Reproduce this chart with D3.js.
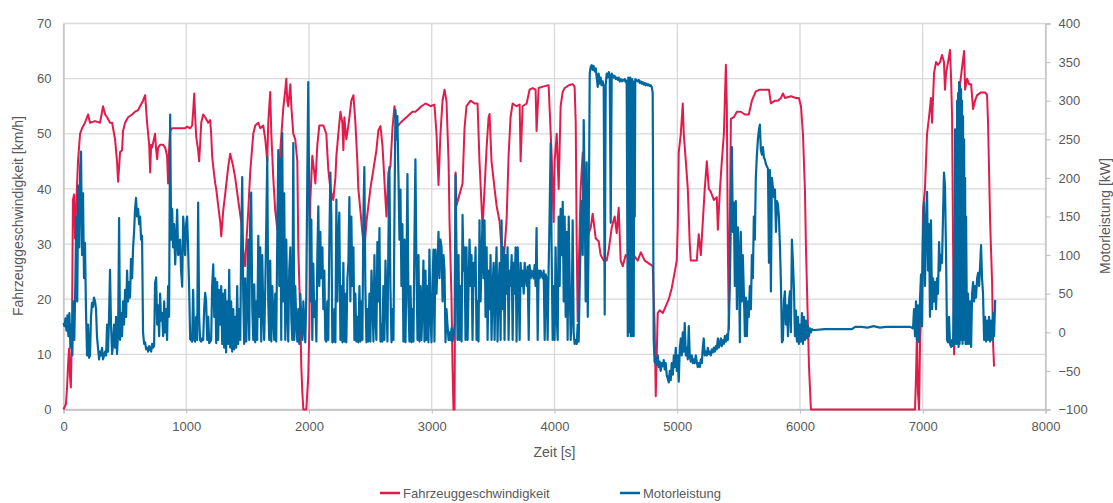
<!DOCTYPE html>
<html>
<head>
<meta charset="utf-8">
<script src="https://cdn.jsdelivr.net/npm/d3@7"></script>
<style>
  body { margin: 0; background: #fff; font-family: "Liberation Sans", Arial, sans-serif; }
  .tick text { fill: #595959; font-size: 13px; }
</style>
</head>
<body>
<div id="chart"></div>
<script>
// axis ticks
var xTicks = [0, 1000, 2000, 3000, 4000, 5000, 6000, 7000, 8000];
var speedTicks = [0, 10, 20, 30, 40, 50, 60, 70];
var powerTicks = [-100, -50, 0, 50, 100, 150, 200, 250, 300, 350, 400];

// Fahrzeuggeschwindigkeit [km/h] over Zeit [s]
var speedData = [[0,0],[20,1],[29,4],[37,8],[45,11],[53,6],[60,4],[69,15],[77,38],[86,39],[94,31],[102,36],[118,45],[135,50],[151,51],[175,52],[200,53.5],[216,52],[257,52.3],[298,52],[322,55],[339,53.5],[355,53],[379,52],[396,52],[420,49],[436,45],[445,41.3],[453,44],[461,46.7],[477,47],[485,50.5],[502,52],[526,53],[559,53.5],[583,54],[608,54.3],[624,55],[648,56],[665,57],[681,52],[698,48],[706,43],[714,48],[722,47.5],[746,50],[755,47],[763,45.4],[771,47.5],[787,48],[812,48],[828,47.5],[844,46],[852,41],[860,47],[869,50.5],[885,51],[910,51],[950,51],[991,51],[1007,51.3],[1032,51],[1048,51.5],[1056,54],[1065,57.3],[1073,53],[1081,49.5],[1097,47],[1105,45],[1113,48],[1122,52],[1138,53.5],[1154,53],[1179,52],[1195,52.5],[1203,50],[1211,46],[1220,44],[1236,41],[1244,40],[1260,37],[1277,34],[1285,31.4],[1301,36],[1317,39],[1342,44],[1358,46.4],[1383,44],[1399,42],[1423,38],[1448,34],[1464,29],[1480,26],[1489,30],[1505,36],[1521,43],[1546,50],[1562,51.5],[1587,52],[1603,51],[1627,51.5],[1644,49],[1660,45],[1668,52],[1684,57.6],[1693,50],[1709,42],[1725,36],[1742,32.7],[1750,40],[1766,47],[1790,54.5],[1807,58],[1815,60],[1823,56],[1831,55],[1848,59],[1856,55],[1872,50],[1888,49],[1905,45],[1913,29],[1929,17],[1937,8],[1946,3],[1954,0],[1978,0],[1994,6],[2003,15],[2011,38],[2027,46],[2043,43],[2052,41],[2068,48],[2084,51.5],[2117,51.5],[2141,50],[2157,43.6],[2174,40],[2198,38],[2215,42],[2223,46],[2239,50],[2256,54],[2272,52],[2280,47],[2288,53],[2304,49],[2321,51.5],[2345,56],[2362,57],[2378,52],[2394,45],[2402,40],[2419,36],[2435,32],[2451,29],[2468,34],[2484,37],[2500,40],[2525,43.6],[2549,47],[2565,50.6],[2582,51.4],[2598,48],[2606,45],[2623,38],[2631,35],[2647,43],[2663,44],[2680,51],[2696,55],[2712,52],[2729,51.5],[2745,52],[2769,52.5],[2794,53],[2818,53.5],[2843,54],[2867,54],[2892,54.5],[2916,55],[2949,55.5],[2990,55],[3022,55.3],[3039,50],[3055,40.7],[3071,50],[3088,56],[3104,58],[3120,56],[3137,45],[3145,34],[3161,20],[3169,8],[3177,0],[3186,0],[3194,43],[3202,37],[3226,39],[3251,41],[3267,51],[3283,55],[3316,56],[3349,55.5],[3373,55.5],[3389,45],[3414,33],[3430,40],[3447,47.5],[3463,53],[3471,53.6],[3487,45],[3512,40],[3528,37],[3553,34],[3569,29],[3577,23],[3593,29],[3610,34.5],[3626,46],[3642,53],[3659,55.5],[3691,55],[3716,55.3],[3724,45],[3740,55],[3773,55.5],[3797,58],[3822,58.3],[3846,58],[3854,50.5],[3871,58.3],[3912,58.6],[3952,58.8],[3977,46],[3993,34],[4001,45],[4018,50],[4034,40],[4050,55],[4067,57.6],[4083,58.3],[4116,58.8],[4148,59],[4164,58.5],[4173,52],[4181,30],[4189,16],[4197,25],[4213,40],[4230,46.6],[4238,32],[4254,30],[4279,32],[4295,33],[4311,35.5],[4336,31],[4360,30.5],[4376,28],[4401,27],[4425,27],[4442,29],[4466,33],[4490,35],[4507,32],[4523,36.6],[4539,27],[4556,26],[4580,28],[4613,27.5],[4645,28],[4678,27],[4703,28.5],[4735,27],[4768,26.5],[4800,26],[4816,15],[4825,2.4],[4841,17.5],[4857,18],[4882,17.5],[4906,18.7],[4931,20],[4955,22],[4980,25],[4996,27],[5004,33],[5012,46.6],[5029,50],[5045,55.5],[5053,50],[5070,45],[5086,40],[5102,30],[5110,27],[5135,27],[5159,27],[5175,31.8],[5192,28],[5208,34],[5224,40],[5241,45],[5257,40],[5273,39.5],[5298,38],[5322,38.5],[5331,32.6],[5347,39.6],[5363,45],[5380,50],[5396,62.5],[5404,55],[5412,30],[5420,14.6],[5437,52.7],[5461,53],[5486,54],[5518,54],[5551,53.5],[5583,53.5],[5608,56],[5640,57.7],[5673,58],[5714,58],[5747,58],[5763,55.5],[5796,56],[5820,56],[5845,56.5],[5861,57.3],[5877,56.5],[5926,56.8],[5967,56.5],[5991,56.5],[6008,55],[6024,50],[6040,40],[6049,29],[6065,15],[6073,8],[6089,0],[6500,0],[6937,0],[6945,6],[6953,14],[6961,3],[6970,0],[6978,12],[6994,22],[7002,36],[7018,40],[7035,50],[7051,53],[7067,56.5],[7076,52],[7092,61],[7108,63],[7124,62.5],[7141,63],[7157,64.3],[7173,63],[7181,58],[7190,61],[7206,63],[7222,65.2],[7231,60],[7239,53],[7247,30],[7255,10],[7263,15],[7271,35],[7288,52],[7304,59],[7320,62],[7337,65],[7345,58],[7361,60],[7377,59],[7394,59],[7410,54.5],[7426,56],[7443,57],[7475,57.5],[7508,57.5],[7524,57],[7532,52],[7549,34],[7565,23],[7573,12],[7581,7.8]];

// Motorleistung [kW] over Zeit [s]
var powerData = [[0,12],[8,8],[16,18],[24,2],[32,22],[40,-5],[48,25],[56,-20],[64,10],[72,-30],[80,40],[88,-10],[96,60],[104,150],[112,40],[120,190],[128,110],[136,215],[143,234],[151,100],[159,180],[167,70],[175,116],[183,30],[192,-30],[200,10],[208,-33],[216,-30],[224,20],[232,38],[240,33],[248,45],[257,40],[265,30],[273,-6],[281,-20],[290,-35],[298,-25],[306,-30],[314,-20],[322,-35],[330,-30],[339,-25],[347,-30],[355,10],[363,-25],[371,20],[379,81],[387,10],[396,-28],[404,-15],[412,10],[420,-20],[428,20],[436,-28],[445,0],[453,148],[461,-10],[469,25],[477,-5],[485,40],[493,10],[502,55],[510,20],[518,80],[526,40],[534,65],[542,45],[550,95],[559,70],[567,110],[575,130],[583,160],[591,174],[599,150],[608,160],[616,140],[624,150],[632,120],[640,125],[648,0],[657,-15],[665,-13],[673,-22],[681,-20],[689,-25],[698,-18],[706,-22],[714,-25],[722,-15],[730,-20],[738,-18],[746,64],[755,71],[763,10],[771,35],[779,-5],[787,50],[795,15],[803,25],[812,-5],[820,40],[828,0],[836,30],[844,-10],[852,60],[860,20],[869,282],[877,120],[885,160],[893,110],[901,140],[910,88],[918,120],[926,159],[934,100],[942,103],[950,120],[958,80],[967,59],[975,150],[983,130],[991,100],[999,140],[1007,150],[1015,110],[1023,60],[1032,-9],[1040,-10],[1048,-12],
  [1056,55],[1065,-10],[1073,-12],[1081,20],[1089,-10],[1097,168],[1105,20],[1113,-10],[1122,-12],[1130,-8],[1138,-10],[1146,30],[1154,51],[1162,40],[1171,-10],[1179,20],[1187,-14],[1195,-12],[1203,-10],[1211,60],[1220,88],[1228,20],[1236,70],[1244,-14],[1252,65],[1260,-10],[1268,55],[1277,10],[1285,60],[1293,-15],[1301,50],[1309,-20],[1317,55],[1325,-26],[1334,40],[1342,-15],[1350,81],[1358,-20],[1366,40],[1374,-25],[1383,30],[1391,-22],[1399,20],[1407,-20],[1415,60],[1423,-15],[1432,30],[1440,-10],[1448,120],[1456,201],[1464,50],[1472,-15],[1480,70],[1489,-12],[1497,40],[1505,120],[1513,-10],[1521,150],[1529,181],[1538,30],[1546,-10],[1554,62],[1562,-13],[1570,40],[1578,-10],[1587,125],[1595,20],[1603,110],[1611,-12],[1619,100],[1627,30],[1635,-10],[1644,60],[1652,140],[1660,227],[1668,40],[1676,-10],[1684,93],[1693,-12],[1701,60],[1709,20],[1717,-10],[1725,50],[1733,-12],[1742,130],[1750,236],[1758,60],[1766,225],[1774,-10],[1782,258],[1790,40],[1798,180],[1807,-10],[1815,120],[1823,30],[1831,-12],[1839,80],[1848,110],[1856,20],[1864,-10],[1872,245],[1880,-10],[1888,60],[1897,10],[1905,-12],[1913,30],[1921,-15],[1929,50],[1937,20],[1946,-10],[1954,40],[1962,5],[1970,-13],[1978,50],[1986,200],[1994,324],[2003,150],[2011,40],
  [2019,146],[2027,-10],[2035,89],[2043,20],[2052,40],[2060,-12],[2068,100],[2076,163],[2084,60],[2092,130],[2100,70],[2109,110],[2117,30],[2125,80],[2133,-10],[2141,-12],[2149,40],[2157,-10],[2166,120],[2174,207],[2182,150],[2190,-13],[2198,-12],[2207,30],[2215,-13],[2223,172],[2231,40],[2239,120],[2247,155],[2256,-10],[2264,60],[2272,-13],[2280,90],[2288,-12],[2296,50],[2304,-13],[2313,70],[2321,90],[2329,175],[2337,40],[2345,150],[2353,60],[2362,110],[2370,-10],[2378,50],[2386,-12],[2394,20],[2402,-13],[2411,60],[2419,-12],[2427,40],[2435,-10],[2443,150],[2451,214],[2459,60],[2468,-13],[2476,30],[2484,-12],[2492,50],[2500,-12],[2509,80],[2517,40],[2525,-12],[2533,100],[2541,20],[2549,-10],[2557,117],[2565,40],[2574,135],[2582,-12],[2590,10],[2598,-12],[2606,60],[2614,-10],[2623,93],[2631,40],[2639,-12],[2647,120],[2655,214],[2663,60],[2672,-13],[2680,30],[2688,-10],[2696,150],[2704,288],[2712,250],[2720,280],[2729,200],[2737,120],[2745,185],[2753,60],[2761,140],[2769,-12],[2778,120],[2786,-13],[2794,80],[2802,205],[2810,40],[2818,-12],[2827,60],[2835,-13],[2843,30],[2851,-12],[2859,120],[2867,224],[2875,90],[2884,-10],[2892,100],[2900,-12],[2908,60],[2916,-10],[2924,30],[2932,93],[2941,-12],[2949,80],[2957,-10],[2965,60],[2973,-13],[2981,107],[2990,20],
  [2998,-13],[3006,60],[3014,107],[3022,-12],[3030,107],[3039,50],[3047,90],[3055,130],[3063,70],[3071,120],[3080,110],[3088,40],[3096,100],[3104,80],[3112,-13],[3120,30],[3128,10],[3137,-10],[3145,0],[3153,-10],[3161,5],[3169,-12],[3177,-5],[3186,10],[3194,204],[3202,100],[3210,-10],[3218,100],[3226,-10],[3234,60],[3243,-12],[3251,152],[3259,80],[3267,110],[3275,-10],[3283,110],[3292,-10],[3300,60],[3308,120],[3316,60],[3324,100],[3332,-10],[3341,90],[3349,60],[3357,110],[3365,-10],[3373,40],[3381,-12],[3389,145],[3398,40],[3406,100],[3414,145],[3422,70],[3430,145],[3438,20],[3447,110],[3455,-10],[3463,80],[3471,30],[3479,100],[3487,-10],[3496,60],[3504,90],[3512,-10],[3520,70],[3528,110],[3536,-12],[3545,60],[3553,90],[3561,-10],[3569,145],[3577,30],[3585,110],[3593,-10],[3602,100],[3610,50],[3618,110],[3626,-10],[3634,80],[3642,60],[3651,100],[3659,-10],[3667,90],[3675,50],[3683,110],[3691,-12],[3700,110],[3708,60],[3716,-10],[3724,90],[3732,60],[3740,80],[3749,50],[3757,90],[3765,70],[3773,60],[3781,85],[3790,-10],[3797,87],[3806,70],[3814,80],[3822,75],[3830,70],[3838,87],[3846,60],[3854,135],[3863,-10],[3871,80],[3879,70],[3887,80],[3895,75],[3904,70],[3912,80],[3920,-10],[3928,75],[3936,70],[3944,-10],[3952,80],[3960,150],[3969,245],[3977,100],[3985,-10],[3993,60],[4001,-10],[4009,110],[4018,20],
  [4026,-10],[4034,150],[4042,60],[4050,160],[4058,100],[4067,169],[4075,40],[4083,150],[4091,20],[4099,130],[4107,-10],[4116,150],[4124,60],[4132,-10],[4140,20],[4148,145],[4156,0],[4164,-15],[4173,-10],[4181,-15],[4189,10],[4197,-12],[4205,60],[4213,120],[4221,170],[4230,100],[4238,275],[4246,180],[4254,40],[4262,220],[4271,20],[4279,140],[4287,335],[4295,344],[4303,346],[4311,340],[4319,345],[4328,338],[4336,342],[4344,330],[4352,318],[4360,335],[4368,322],[4376,330],[4384,320],[4393,325],[4401,318],[4409,23],[4417,320],[4425,335],[4434,330],[4442,337],[4450,332],[4458,142],[4466,335],[4474,333],[4482,330],[4490,332],[4499,328],[4507,330],[4515,327],[4523,330],[4531,325],[4539,328],[4548,325],[4556,327],[4564,326],[4572,328],[4580,324],[4588,326],[4597,-5],[4601,330],[4605,0],[4609,325],[4613,60],[4617,330],[4621,-5],[4625,320],[4629,-5],[4633,328],[4637,100],[4641,320],[4645,-5],[4650,325],[4654,150],[4658,328],[4670,326],[4678,325],[4686,327],[4694,323],[4703,325],[4711,322],[4719,324],[4727,321],[4735,323],[4743,320],[4751,322],[4760,320],[4768,321],[4776,319],[4784,320],[4792,318],[4800,310],[4808,-9],[4816,-39],
  [4825,-35],[4833,-42],[4841,-30],[4849,-45],[4857,-38],[4865,-50],[4874,-40],[4882,-44],[4890,-36],[4898,-48],[4906,-40],[4914,-55],[4923,-60],[4931,-65],[4939,-50],[4947,-62],[4955,-40],[4964,-55],[4972,-30],[4980,-45],[4988,-20],[4996,-50],[5004,-30],[5012,-64],[5021,-20],[5029,-8],[5037,-30],[5045,0],[5053,-25],[5061,12],[5070,-30],[5078,-20],[5086,-35],[5094,8],[5102,-30],[5110,-38],[5118,-30],[5127,-40],[5135,-35],[5143,-40],[5151,-30],[5159,-38],[5167,-45],[5175,-40],[5184,-45],[5192,-35],[5200,-40],[5208,-20],[5216,-8],[5224,-30],[5233,-25],[5241,-30],[5249,-20],[5257,-28],[5265,-25],[5273,-30],[5282,-22],[5290,-26],[5298,-20],[5306,-25],[5314,-18],[5322,-22],[5331,-8],[5339,-20],[5347,-15],[5355,-8],[5363,-18],[5371,-10],[5380,-15],[5388,-5],[5396,-12],[5404,-3],[5412,-10],[5420,10],[5428,60],[5437,150],
  [5445,240],[5453,130],[5461,168],[5469,60],[5477,170],[5486,30],[5494,136],[5502,100],[5510,-13],[5518,130],[5526,40],[5534,100],[5543,50],[5551,-5],[5559,45],[5567,-5],[5575,40],[5583,20],[5591,60],[5600,30],[5608,100],[5616,70],[5624,150],[5632,120],[5640,200],[5649,230],[5657,250],[5665,262],[5673,269],[5681,236],[5690,230],[5698,240],[5706,226],[5714,224],[5722,218],[5730,215],[5739,212],[5747,90],[5755,210],[5763,53],[5771,200],[5779,188],[5788,175],[5796,185],[5804,130],[5812,170],[5820,166],[5828,150],[5837,110],[5845,60],[5853,-13],[5861,-10],[5869,40],[5877,53],[5885,10],[5894,35],[5902,-5],[5910,40],[5918,53],[5926,0],[5934,120],[5942,93],[5951,55],[5959,-5],[5967,28],[5975,-12],[5983,20],[5991,-15],[5999,10],[6008,-12],[6016,25],[6024,-15],[6032,20],[6040,-10],[6049,15],[6057,-8],[6065,8],[6073,-5],[6081,5],[6089,0],[6098,4],[6106,3],
  [6122,3],[6200,4],[6300,4],[6420,4],[6450,7],[6500,7],[6550,6],[6600,8],[6650,6],[6700,7],[6800,7],[6900,7],
  [6921,5],[6929,30],[6937,-5],[6945,40],[6953,-10],[6961,35],[6970,-13],[6978,45],[6986,75],[6994,8],[7002,120],[7010,168],[7018,60],[7027,140],[7035,182],[7043,80],[7051,140],[7059,20],[7067,145],[7076,30],[7084,70],[7092,40],[7100,65],[7108,30],[7116,70],[7124,50],[7133,117],[7141,80],[7149,100],[7157,90],[7165,150],[7173,207],[7181,190],[7190,100],[7198,-10],[7206,-13],[7214,20],[7222,-15],[7231,-19],[7239,-10],[7247,-18],[7255,100],[7259,-15],[7263,263],[7267,-10],[7271,200],[7275,-15],[7280,300],[7284,-10],[7288,310],[7292,-19],[7296,324],[7300,-15],[7304,320],[7308,-10],[7312,315],[7316,20],[7320,300],[7324,-15],[7328,280],[7333,0],[7337,250],[7341,-10],[7345,200],[7349,-15],[7353,150],[7361,-15],[7369,50],[7377,-15],[7385,40],[7394,-19],[7402,50],[7410,65],[7418,40],[7426,60],[7434,45],[7443,70],[7451,77],[7459,60],[7467,85],[7475,113],[7483,70],[7491,50],[7500,-10],[7508,20],[7516,-12],[7524,15],[7532,-10],[7540,20],[7549,-12],[7557,15],[7565,-10],[7573,25],[7581,-5],[7590,42]];

var W = 1113, H = 503;
var plot = {left: 63.5, right: 1045.5, top: 23.5, bottom: 409.5};
var red = "#e31b4c", blue = "#00689f", grid = "#d9d9d9", text = "#595959";

var svg = d3.select("#chart").append("svg").attr("width", W).attr("height", H);

var x = d3.scaleLinear().domain([0, 8000]).range([plot.left, plot.right]);
var yL = d3.scaleLinear().domain([0, 70]).range([plot.bottom, plot.top]);
var yR = d3.scaleLinear().domain([-100, 400]).range([plot.bottom, plot.top]);

// gridlines
svg.append("g").selectAll("line").data(speedTicks).join("line")
  .attr("x1", plot.left).attr("x2", plot.right)
  .attr("y1", d => yL(d)).attr("y2", d => yL(d))
  .attr("stroke", grid).attr("stroke-width", 1.3);
svg.append("g").selectAll("line").data(xTicks).join("line")
  .attr("x1", d => x(d)).attr("x2", d => x(d))
  .attr("y1", plot.top).attr("y2", plot.bottom)
  .attr("stroke", grid).attr("stroke-width", 1.3);

// axes
var xAxis = svg.append("g").attr("transform", "translate(0," + plot.bottom + ")")
  .call(d3.axisBottom(x).tickValues(xTicks).tickSize(4).tickPadding(8).tickFormat(d3.format("d")));
var lAxis = svg.append("g").attr("transform", "translate(" + plot.left + ",0)")
  .call(d3.axisLeft(yL).tickValues(speedTicks).tickSize(0).tickPadding(12));
var rAxis = svg.append("g").attr("transform", "translate(" + plot.right + ",0)")
  .call(d3.axisRight(yR).tickValues(powerTicks).tickSize(5).tickPadding(8));
[xAxis, lAxis, rAxis].forEach(function (a) {
  a.selectAll(".domain").attr("stroke", "#bfbfbf").attr("stroke-width", 1.3);
  a.selectAll(".tick line").attr("stroke", "#bfbfbf");
  a.selectAll("text").style("font-family", "'Liberation Sans', Arial, sans-serif");
});

// series
var lineL = d3.line().x(d => x(d[0])).y(d => yL(d[1]));
var lineR = d3.line().x(d => x(d[0])).y(d => yR(d[1]));
svg.append("path").datum(speedData).attr("d", lineL)
  .attr("fill", "none").attr("stroke", red).attr("stroke-width", 2).attr("stroke-linejoin", "round");
svg.append("path").datum(powerData).attr("d", lineR)
  .attr("fill", "none").attr("stroke", blue).attr("stroke-width", 2.2).attr("stroke-linejoin", "round");

// axis titles
svg.append("text").attr("x", (plot.left + plot.right) / 2).attr("y", 457)
  .attr("text-anchor", "middle").attr("fill", text).style("font-size", "14px").text("Zeit [s]");
svg.append("text").attr("transform", "translate(23,216) rotate(-90)")
  .attr("text-anchor", "middle").attr("fill", text).style("font-size", "14px").text("Fahrzeuggeschwindigkeit [km/h]");
svg.append("text").attr("transform", "translate(1110,216) rotate(-90)")
  .attr("text-anchor", "middle").attr("fill", text).style("font-size", "14px").text("Motorleistung [kW]");

// legend
var legend = [{name: "Fahrzeuggeschwindigkeit", color: red, x: 380}, {name: "Motorleistung", color: blue, x: 620}];
var lg = svg.append("g").selectAll("g").data(legend).join("g")
  .attr("transform", d => "translate(" + d.x + ",493)");
lg.append("line").attr("x1", 0).attr("x2", 20).attr("y1", 0).attr("y2", 0)
  .attr("stroke", d => d.color).attr("stroke-width", 2.5);
lg.append("text").attr("x", 23).attr("y", 4.5).attr("fill", text).style("font-size", "13px").text(d => d.name);
</script>
</body>
</html>
